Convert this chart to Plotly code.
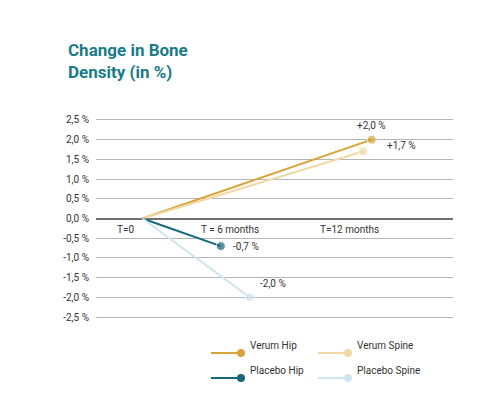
import plotly.graph_objects as go

# x positions in "months"
series_names = ["Verum Hip", "Verum Spine", "Placebo Hip", "Placebo Spine"]
series_x = [[0, 15.8], [0, 15.2], [0, 5.4], [0, 7.4]]
series_y = [[0, 2.0], [0, 1.7], [0, -0.7], [0, -2.0]]
series_colors = ["#d9a33a", "#f0d9a6", "#17687a", "#cfe5f0"]
end_labels = ["+2,0 %", "+1,7 %", "-0,7 %", "-2,0 %"]

time_labels = ["T=0", "T = 6 months", "T=12 months"]
time_x = [-1.2, 6.0, 14.3]

y_ticks = [2.5, 2.0, 1.5, 1.0, 0.5, 0.0, -0.5, -1.0, -1.5, -2.0, -2.5]
y_tick_text = ["2,5 %", "2,0 %", "1,5 %", "1,0 %", "0,5 %", "0,0 %",
               "-0,5 %", "-1,0 %", "-1,5 %", "-2,0 %", "-2,5 %"]

W, H = 500, 400
L, R, T, B = 88, 55, 108, 87
pw, ph = W - L - R, H - T - B


def px(x):
    return (x - L) / pw


def py(y):
    return (H - B - y) / ph


fig = go.Figure()
for name, xs, ys, col in zip(series_names, series_x, series_y, series_colors):
    fig.add_trace(go.Scatter(
        x=xs, y=ys, name=name, mode="lines+markers", showlegend=False,
        line=dict(color=col, width=2),
        marker=dict(color=col, size=[0, 9]),
    ))

# value labels next to end points
offsets = [(0, 14, "center"), (22, 6, "left"), (10, 0, "left"), (8, 14, "left")]
for xs, ys, lab, (dx, dy, anc) in zip(series_x, series_y, end_labels, offsets):
    fig.add_annotation(x=xs[-1], y=ys[-1], text=lab, showarrow=False,
                       xshift=dx, yshift=dy, xanchor=anc,
                       font=dict(size=10, color="#333"))

for lab, xv in zip(time_labels, time_x):
    fig.add_annotation(x=xv, y=-0.27, text=lab, showarrow=False,
                       font=dict(size=10, color="#333"))

fig.add_annotation(xref="paper", yref="paper", x=px(58), y=py(30),
                   xanchor="left", yanchor="top", align="left", showarrow=False,
                   text="<b>Change in Bone<br>Density (in %)</b>",
                   font=dict(size=17, color="#1a7b8a"))

# manual legend, two columns
legend_pos = [(203, 345), (310, 345), (203, 370), (310, 370)]
for name, col, (lx, ly) in zip(series_names, series_colors, legend_pos):
    fig.add_shape(type="line", xref="paper", yref="paper",
                  x0=px(lx), x1=px(lx + 30), y0=py(ly), y1=py(ly),
                  line=dict(color=col, width=2))
    fig.add_shape(type="circle", xref="paper", yref="paper",
                  x0=px(lx + 26), x1=px(lx + 34), y0=py(ly + 4), y1=py(ly - 4),
                  fillcolor=col, line=dict(width=0))
    fig.add_annotation(xref="paper", yref="paper", x=px(lx + 37), y=py(ly),
                       xanchor="left", showarrow=False, text=name,
                       font=dict(size=10, color="#333"))

fig.update_xaxes(range=[-3.2, 21.4], visible=False)
fig.update_yaxes(range=[-2.6, 2.6], tickvals=y_ticks, ticktext=y_tick_text,
                 gridcolor="#b5b5b5", gridwidth=1, zeroline=True,
                 zerolinecolor="#707070", zerolinewidth=2,
                 tickfont=dict(size=10, color="#333"), ticks="", ticklabelstandoff=6)

fig.update_layout(
    width=W, height=H,
    margin=dict(l=L, r=R, t=T, b=B, autoexpand=False),
    plot_bgcolor="white", paper_bgcolor="white",
    font=dict(family="Roboto, Lato, sans-serif"),
    showlegend=False,
)

fig.write_html("out.html")
